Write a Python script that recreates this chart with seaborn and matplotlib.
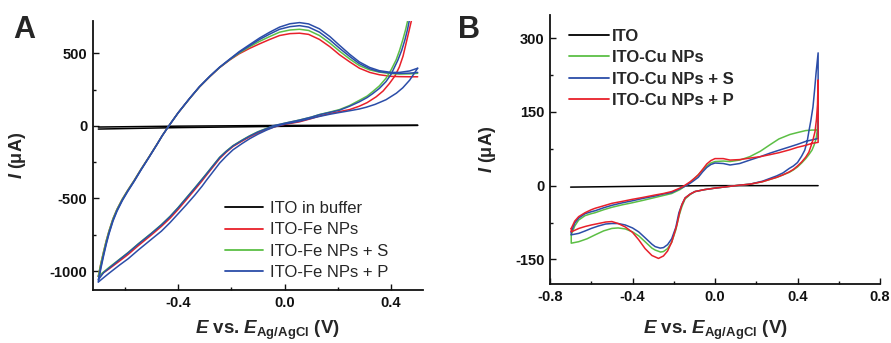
import matplotlib
matplotlib.use("Agg")
import matplotlib.pyplot as plt
import pandas as pd
import seaborn as sns
from matplotlib.ticker import MultipleLocator, FormatStrFormatter

# ---------------- Panel A data (E in V, I in uA) ----------------
A_labels = ["ITO in buffer", "ITO-Fe NPs", "ITO-Fe NPs + S", "ITO-Fe NPs + P"]
A_colors = ["#000000", "#E8202A", "#5CBF45", "#2B4DA8"]

a_black_lo_E = [-0.70, -0.40, 0.00, 0.50]
a_black_lo_I = [-22, -12, -3, 3]
a_black_up_E = [0.50, 0.00, -0.40, -0.70]
a_black_up_I = [5, 3, -2, -8]

# forward (lower) branches
a_red_lo_E = [-0.70, -0.66, -0.62, -0.588, -0.55, -0.50, -0.463, -0.43, -0.40, -0.37, -0.338, -0.31,
              -0.294, -0.27, -0.244, -0.22, -0.194, -0.16, -0.131, -0.10, -0.069, -0.04, -0.025,
              0.0, 0.056, 0.10, 0.131, 0.17, 0.206, 0.244, 0.28, 0.31, 0.344, 0.37, 0.394, 0.415,
              0.431, 0.445, 0.456, 0.467, 0.477, 0.49]
a_red_lo_I = [-1036, -985, -930, -885, -825, -750, -692, -635, -575, -510, -440, -378,
              -340, -285, -225, -182, -142, -105, -75, -48, -25, -8, 0,
              10, 28, 50, 68, 85, 98, 112, 135, 160, 200, 240, 292, 345,
              405, 480, 565, 650, 729, 860]

a_grn_lo_E = [-0.70, -0.66, -0.62, -0.588, -0.55, -0.50, -0.463, -0.43, -0.40, -0.37, -0.338, -0.31,
              -0.294, -0.27, -0.244, -0.22, -0.194, -0.16, -0.131, -0.10, -0.069, -0.04, 0.0,
              0.056, 0.10, 0.131, 0.17, 0.206, 0.244, 0.28, 0.31, 0.331, 0.356, 0.381, 0.40,
              0.419, 0.432, 0.444, 0.455, 0.463, 0.475]
a_grn_lo_I = [-1036, -975, -918, -872, -812, -738, -680, -622, -562, -497, -428, -366,
              -330, -275, -216, -175, -136, -98, -68, -40, -18, 0, 18,
              40, 60, 78, 95, 112, 140, 175, 205, 236, 275, 328, 385,
              454, 520, 592, 665, 729, 860]

a_blu1_lo_E = [-0.70, -0.68, -0.66, -0.62, -0.588, -0.55, -0.50, -0.463, -0.43, -0.40, -0.37, -0.338,
               -0.31, -0.294, -0.27, -0.244, -0.22, -0.194, -0.16, -0.131, -0.10, -0.069, -0.045,
               0.0, 0.056, 0.10, 0.131, 0.17, 0.206, 0.244, 0.28, 0.31, 0.331, 0.356, 0.381, 0.40,
               0.425, 0.44, 0.452, 0.462, 0.469, 0.48]
a_blu1_lo_I = [-1060, -1010, -980, -920, -874, -814, -740, -682, -624, -564, -499, -430,
               -368, -332, -277, -218, -177, -138, -100, -70, -42, -20, 0,
               18, 40, 60, 77, 93, 108, 135, 165, 195, 222, 258, 305, 355,
               450, 520, 592, 665, 729, 860]

a_blu2_lo_E = [-0.70, -0.66, -0.62, -0.588, -0.55, -0.50, -0.463, -0.43, -0.40, -0.37, -0.338,
               -0.31, -0.294, -0.27, -0.244, -0.22, -0.194, -0.16, -0.131, -0.10, -0.069, -0.04,
               -0.025, 0.0, 0.056, 0.10, 0.131, 0.17, 0.206, 0.244, 0.28, 0.306, 0.34, 0.381,
               0.42, 0.444, 0.47, 0.50]
a_blu2_lo_I = [-1075, -1015, -958, -915, -855, -780, -725, -665, -605, -545, -478,
               -415, -375, -318, -256, -210, -165, -122, -88, -57, -30, -8,
               0, 12, 32, 52, 65, 80, 92, 104, 116, 128, 148, 180,
               225, 262, 315, 397]

# reverse (upper) branches
a_up_E = [0.50, 0.47, 0.431, 0.40, 0.356, 0.32, 0.281, 0.245, 0.206, 0.17, 0.131, 0.09, 0.056,
          0.02, -0.019, -0.056, -0.094, -0.131, -0.17, -0.206, -0.245, -0.281, -0.32, -0.356,
          -0.40, -0.435, -0.46, -0.48, -0.51, -0.54, -0.565, -0.59, -0.61, -0.63, -0.645,
          -0.66, -0.67, -0.68, -0.69, -0.695, -0.70]
a_red_up_I = [338, 338, 339, 341, 352, 368, 397, 440, 490, 545, 595, 630, 638,
              635, 622, 595, 565, 534, 497, 454, 400, 339, 268, 190,
              90, 0, -68, -128, -215, -300, -375, -445, -505, -575, -640,
              -725, -790, -865, -945, -990, -1036]
a_grn_up_I = [362, 358, 357, 360, 370, 385, 415, 460, 515, 570, 622, 657, 665,
              660, 645, 615, 582, 545, 502, 456, 401, 340, 268, 190,
              90, 0, -68, -128, -215, -300, -375, -445, -505, -575, -640,
              -725, -790, -865, -945, -990, -1036]
a_blu1_up_I = [368, 363, 361, 363, 373, 393, 428, 477, 535, 592, 645, 680, 690,
               683, 665, 632, 595, 552, 507, 458, 402, 341, 269, 191,
               90, 0, -68, -129, -217, -303, -379, -450, -511, -583, -650,
               -737, -805, -883, -965, -1012, -1060]
a_blu2_up_I = [397, 378, 368, 368, 380, 402, 440, 492, 555, 615, 668, 702, 711,
               703, 680, 645, 605, 560, 512, 460, 403, 342, 270, 192,
               90, 0, -68, -129, -218, -305, -381, -453, -515, -588, -656,
               -744, -814, -893, -978, -1026, -1075]

# ---------------- Panel B data ----------------
B_labels = ["ITO", "ITO-Cu NPs", "ITO-Cu NPs + S", "ITO-Cu NPs + P"]
B_colors = ["#000000", "#5CBF45", "#2B4DA8", "#E8202A"]

b_black_E = [-0.70, -0.30, 0.00, 0.50]
b_black_I = [-3, -1, 0, 0]

# forward (upper) branch, -0.7 -> 0.5
b_up_E = [-0.697, -0.68, -0.661, -0.63, -0.60, -0.581, -0.54, -0.50, -0.45, -0.403, -0.35, -0.29,
          -0.25, -0.21, -0.17, -0.145, -0.12, -0.10, -0.081, -0.06, -0.04, -0.02, 0.0, 0.04,
          0.073, 0.12, 0.169, 0.22, 0.266, 0.31, 0.363, 0.40, 0.44, 0.47, 0.50]
b_grn_up_I = [-100, -82, -70, -61, -57, -55, -49, -44, -39, -35, -30, -24,
              -20, -16, -8, -1, 7, 14, 22, 32, 40, 46, 49, 50,
              49, 52, 59, 70, 83, 95, 104, 108, 112, 113, 113]
b_blu_up_I = [-94, -76, -66, -57, -53, -51, -45, -40, -35, -31, -26, -21,
              -17, -14, -6, -1, 5, 11, 17, 28, 37, 43, 46, 45,
              42, 45, 52, 59, 66, 72, 79, 84, 90, 93, 96]
b_red_up_I = [-87, -72, -63, -55, -49, -46, -41, -36, -32, -28, -24, -19,
              -16, -12, -5, 1, 8, 15, 22, 33, 44, 51, 55, 55,
              52, 53, 56, 59, 63, 67, 73, 78, 82, 86, 88]

# reverse (lower) branch, 0.5 -> -0.7
b_grn_lo_E = [0.50, 0.50, 0.499, 0.495, 0.49, 0.48, 0.47, 0.455, 0.44, 0.42, 0.40, 0.38, 0.36,
              0.33, 0.30, 0.23, 0.17, 0.12, 0.06, 0.0, -0.05, -0.097, -0.12, -0.145, -0.16, -0.175,
              -0.19, -0.21, -0.23, -0.25, -0.264, -0.29, -0.306, -0.339, -0.37, -0.40, -0.435,
              -0.47, -0.50, -0.54, -0.581, -0.62, -0.661, -0.697, -0.697]
b_grn_lo_I = [113, 171, 130, 110, 95, 82, 72, 63, 55, 46, 38, 32, 27,
              22, 17, 8, 3, 1, -2, -5, -8, -12, -18, -27, -42, -62,
              -90, -115, -128, -134, -135, -131, -127, -114, -102, -94, -88,
              -86, -87, -92, -100, -108, -114, -117, -100]
b_blu_lo_E = [0.50, 0.50, 0.49, 0.483, 0.475, 0.465, 0.455, 0.447, 0.435, 0.42, 0.40, 0.38, 0.36,
              0.33, 0.30, 0.23, 0.17, 0.12, 0.06, 0.0, -0.05, -0.097, -0.12, -0.145, -0.16, -0.175,
              -0.19, -0.21, -0.23, -0.25, -0.266, -0.29, -0.306, -0.339, -0.37, -0.40, -0.435,
              -0.47, -0.50, -0.53, -0.565, -0.60, -0.629, -0.66, -0.697, -0.697]
b_blu_lo_I = [96, 270, 229, 195, 160, 133, 110, 90, 72, 60, 47, 40, 35,
              26, 20, 9, 3, 1, -2, -5, -8, -12, -17, -25, -38, -55,
              -85, -108, -120, -126, -127, -124, -119, -106, -94, -86, -80,
              -77, -77, -78, -82, -87, -92, -97, -100, -94]
b_red_lo_E = [0.50, 0.50, 0.497, 0.492, 0.485, 0.475, 0.465, 0.455, 0.44, 0.42, 0.40, 0.38, 0.36,
              0.33, 0.30, 0.23, 0.17, 0.12, 0.06, 0.0, -0.05, -0.097, -0.12, -0.145, -0.16, -0.169,
              -0.185, -0.21, -0.23, -0.25, -0.274, -0.306, -0.339, -0.37, -0.40, -0.435, -0.47,
              -0.50, -0.53, -0.565, -0.60, -0.629, -0.66, -0.697, -0.697]
b_red_lo_I = [88, 215, 165, 135, 110, 93, 80, 68, 58, 48, 40, 33, 28,
              22, 17, 8, 3, 1, -2, -5, -8, -12, -17, -25, -38, -50,
              -80, -115, -133, -143, -148, -142, -128, -110, -95, -84, -77,
              -73, -74, -77, -80, -83, -87, -94, -87]


def frame(parts):
    rows = []
    for series, seg, es, is_ in parts:
        for e, i in zip(es, is_):
            rows.append({"series": series, "seg": seg, "E": e, "I": i})
    return pd.DataFrame(rows)


dfA = frame([
    (A_labels[0], "k1", a_black_lo_E, a_black_lo_I),
    (A_labels[0], "k2", a_black_up_E, a_black_up_I),
    (A_labels[1], "r1", a_red_lo_E, a_red_lo_I),
    (A_labels[1], "r2", a_up_E, a_red_up_I),
    (A_labels[2], "g1", a_grn_lo_E, a_grn_lo_I),
    (A_labels[2], "g2", a_up_E, a_grn_up_I),
    (A_labels[3], "b1", a_blu1_lo_E, a_blu1_lo_I),
    (A_labels[3], "b2", a_up_E, a_blu1_up_I),
    (A_labels[3], "b3", a_blu2_lo_E, a_blu2_lo_I),
    (A_labels[3], "b4", a_up_E, a_blu2_up_I),
])
dfB = frame([
    (B_labels[0], "k", b_black_E, b_black_I),
    (B_labels[1], "g", b_up_E + b_grn_lo_E, b_grn_up_I + b_grn_lo_I),
    (B_labels[2], "b", b_up_E + b_blu_lo_E, b_blu_up_I + b_blu_lo_I),
    (B_labels[3], "r", b_up_E + b_red_lo_E, b_red_up_I + b_red_lo_I),
])

sns.set_theme(style="ticks")
plt.rcParams["font.family"] = ["Liberation Sans", "DejaVu Sans"]
plt.rcParams["font.weight"] = "bold"
plt.rcParams["axes.unicode_minus"] = False
plt.rcParams["mathtext.fontset"] = "custom"
plt.rcParams["mathtext.rm"] = "Liberation Sans:bold"
plt.rcParams["mathtext.bf"] = "Liberation Sans:bold"
plt.rcParams["mathtext.it"] = "Liberation Sans:bold:italic"

fig = plt.figure(figsize=(8.91, 3.43), dpi=100)
axA = fig.add_axes([93 / 891, 1 - 290 / 343, 330 / 891, 269 / 343])
axB = fig.add_axes([550 / 891, 1 - 284 / 343, 330 / 891, 269 / 343])

sns.lineplot(data=dfA, x="E", y="I", hue="series", hue_order=A_labels,
             palette=dict(zip(A_labels, A_colors)), units="seg", estimator=None,
             sort=False, linewidth=1.1, ax=axA)
sns.lineplot(data=dfB, x="E", y="I", hue="series", hue_order=B_labels,
             palette=dict(zip(B_labels, B_colors)), units="seg", estimator=None,
             sort=False, linewidth=1.1, ax=axB)


def style(ax, xlim, ylim, xmaj, xmin, ymaj, ymin):
    ax.set_xlim(*xlim)
    ax.set_ylim(*ylim)
    for s in ["top", "right"]:
        ax.spines[s].set_visible(False)
    for s in ["left", "bottom"]:
        ax.spines[s].set_linewidth(1.3)
        ax.spines[s].set_color("#111111")
    ax.xaxis.set_major_locator(MultipleLocator(xmaj))
    ax.xaxis.set_minor_locator(MultipleLocator(xmin))
    ax.yaxis.set_major_locator(MultipleLocator(ymaj))
    ax.yaxis.set_minor_locator(MultipleLocator(ymin))
    ax.xaxis.set_major_formatter(FormatStrFormatter("%.1f"))
    ax.yaxis.set_major_formatter(FormatStrFormatter("%d"))
    ax.tick_params(which="major", direction="in", length=4, width=1.0,
                   labelsize=10.5, pad=4, colors="#111111")
    ax.tick_params(which="minor", direction="in", length=2.5, width=1.0, colors="#111111")
    ax.set_xlabel(r"$E$ vs. $E_{\mathrm{Ag/AgCl}}$ (V)", fontsize=13.5, fontweight="bold")
    ax.set_ylabel(r"$I$ (μA)", fontsize=13, fontweight="bold")


style(axA, (-0.72, 0.52), (-1130, 722), 0.4, 0.2, 500, 250)
style(axB, (-0.8, 0.8), (-200, 347), 0.4, 0.2, 150, 75)

axA.xaxis.set_label_coords(0.529, -0.106)
axB.xaxis.set_label_coords(0.5, -0.13)
axA.yaxis.set_label_coords(-0.197, 0.5)
axB.yaxis.set_label_coords(-0.158, 0.5)

hA = axA.get_legend().legend_handles
hB = axB.get_legend().legend_handles
for h in hA + hB:
    h.set_linewidth(1.3)
axA.legend(hA, A_labels, loc="upper left", bbox_to_anchor=(225 / 891, 1 - 201 / 343),
           bbox_transform=fig.transFigure, frameon=False, borderpad=0, borderaxespad=0,
           handlelength=2.3, handletextpad=0.4, labelspacing=0.38,
           prop={"size": 12, "weight": "normal"})
axB.legend(hB, B_labels, loc="upper left", bbox_to_anchor=(569 / 891, 1 - 29 / 343),
           bbox_transform=fig.transFigure, frameon=False, borderpad=0, borderaxespad=0,
           handlelength=2.4, handletextpad=0.2, labelspacing=0.38,
           prop={"size": 12, "weight": "bold"})

fig.text(13 / 891, 1 - 38 / 343, "A", fontsize=22, fontweight="bold", va="baseline")
fig.text(458 / 891, 1 - 38 / 343, "B", fontsize=22, fontweight="bold", va="baseline")

fig.savefig("out.png", dpi=100)
